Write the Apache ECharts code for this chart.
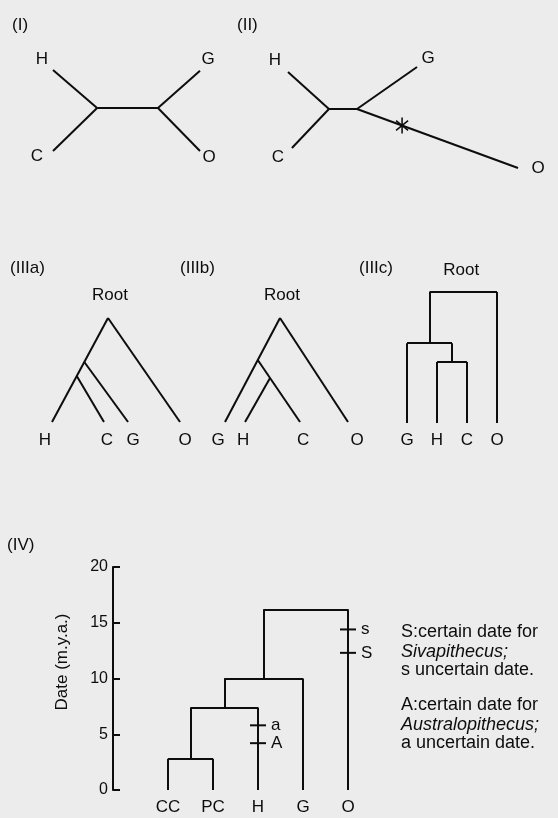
<!DOCTYPE html>
<html><head><meta charset="utf-8">
<script src="https://cdn.jsdelivr.net/npm/echarts@6/dist/echarts.min.js"></script>
<style>html,body{margin:0;padding:0;background:#ececec}#c{width:558px;height:818px}</style>
</head><body><div id="c"></div>
<script>
const FONT = '"Liberation Sans", Arial, sans-serif';
const INK = '#0d0d0d';

// ---------- Panel (I): unrooted tree (tree units) ----------
const p1Nodes = {H:[0,1], C:[0,0], u:[0.30,0.53], v:[0.714,0.53], G:[1,0.99], O:[1,0]};
const p1Edges = [['H','u'],['C','u'],['u','v'],['v','G'],['v','O']];
const p1LeafLabels = [['H',-11,-11],['C',-16,5],['G',8,-11],['O',9,6]];

// ---------- Panel (II): unrooted tree with long O branch ----------
const p2Nodes = {H:[0,0.95], C:[0.017,0.198], u:[0.178,0.584], v:[0.30,0.584], G:[0.561,1], O:[1,0]};
const p2Edges = [['H','u'],['C','u'],['u','v'],['v','G'],['v','O']];
const p2LeafLabels = [['H',-13,-12],['C',-14,9],['G',11,-9],['O',20,0]];
const p2Mark = ['v','O',0.28];   // asterisk on branch v-O

// ---------- Panel (IIIa): slanted cladogram ----------
const p3aLeaves = {H:0, C:0.406, G:0.594, O:1};
const p3aRoot = [0.4375, 1];
const p3aInner = [['n1',0.577,'Root','H'],['n2',0.442,'Root','H']];
const p3aEdges = [['Root','H'],['Root','O'],['n1','G'],['n2','C']];
const p3aLabelDx = {H:-7, C:3, G:5, O:5};

// ---------- Panel (IIIb) ----------
const p3bLeaves = {G:0, H:0.163, C:0.61, O:1};
const p3bRoot = [0.447, 1];
const p3bInner = [['n1',0.596,'Root','G'],['n2',0.423,'n1','C']];
const p3bEdges = [['Root','G'],['Root','O'],['n1','C'],['n2','H']];
const p3bLabelDx = {G:-7, H:-2, C:3, O:9};

// ---------- Panel (IIIc): rectangular cladogram ----------
const p3cLeaves = ['G','H','C','O'];
const p3cMerges = [['H','C',1.0],['G','HC',1.31],['GHC','O',2.15]];

// ---------- Panel (IV): dated tree ----------
const ivLeaves = ['CC','PC','H','G','O'];
const ivMerges = [['CC','PC',2.8],['CCPC','H',7.4],['CCPCH','G',10.0],['CCPCHG','O',16.2]];
const ivDateMarks = [['H',5.8,'a'],['H',4.2,'A'],['O',14.4,'s'],['O',12.3,'S']];
const ivYMin = 0, ivYMax = 20, ivYStep = 5;
const ivAxisName = 'Date (m.y.a.)';

const panelTitles = [['(I)',12,25],['(II)',237,25],['(IIIa)',10,268],['(IIIb)',180,268],['(IIIc)',359,268],['(IV)',7,545]];
const noteLines = [
  ['S:certain date for','normal'],['Sivapithecus;','italic'],['s uncertain date.','normal'],
  ['A:certain date for','normal'],['Australopithecus;','italic'],['a uncertain date.','normal']
];

// ---------- helpers ----------
function pointAtHeight(A, B, h){ const t=(h-A[1])/(B[1]-A[1]); return [A[0]+t*(B[0]-A[0]), h]; }
function slanted(leaves, root, inner){
  const P = {Root: root};
  Object.keys(leaves).forEach(k => P[k] = [leaves[k], 0]);
  inner.forEach(([n,h,a,b]) => P[n] = pointAtHeight(P[a], P[b], h));
  return P;
}
function dendro(leaves, merges){
  const P = {}; const segs = [];
  leaves.forEach((k,i) => P[k] = [i,0]);
  let last = null;
  merges.forEach(([a,b,h]) => {
    const pa=P[a], pb=P[b];
    segs.push([pa,[pa[0],h]],[pb,[pb[0],h]],[[pa[0],h],[pb[0],h]]);
    last = P[a+b] = [(pa[0]+pb[0])/2, h];
  });
  return {P, segs, root:last};
}
function edgeLines(P, edges){ return edges.map(([a,b]) => ({coords:[P[a],P[b]]})); }
function asteriskPath(){
  const L=16, t=1.6; let d='';
  [90,38,142].forEach(deg => {
    const a=deg*Math.PI/180, dx=Math.cos(a)*L/2, dy=-Math.sin(a)*L/2, nx=Math.sin(a)*t/2, ny=Math.cos(a)*t/2;
    const pts=[[dx+nx,dy+ny],[dx-nx,dy-ny],[-dx-nx,-dy-ny],[-dx+nx,-dy+ny]];
    d += 'M'+pts.map(p=>p[0].toFixed(3)+','+p[1].toFixed(3)).join('L')+'Z';
  });
  return 'path://'+d;
}

const lineStyle = {color: INK, width: 2, opacity: 1};
const labelFont = {fontFamily: FONT, fontSize: 17, color: INK, opacity: 1};
function linesSeries(xi, yi, data){
  return {type:'lines', coordinateSystem:'cartesian2d', xAxisIndex: xi, yAxisIndex: yi, lineStyle, data, silent:true, animation:false, z:2};
}
function labelSeries(xi, yi, data){
  return {type:'scatter', xAxisIndex: xi, yAxisIndex: yi, symbolSize: 1, itemStyle:{color:'rgba(0,0,0,0)', opacity:1},
    label:{show:true, position:'inside', formatter: p => p.name, ...labelFont}, data, silent:true, animation:false, z:3};
}

const grids = [
  {left:53, top:70, width:147, height:81},
  {left:288, top:67, width:230, height:101},
  {left:52, top:318, width:128, height:104},
  {left:225, top:318, width:123, height:104},
  {left:407, top:292, width:90, height:131},
  {left:145.5, top:567, width:225, height:223}
];
const hid = (g, min, max) => ({type:'value', gridIndex:g, min, max, show:false});

const xAxis = [hid(0,0,1), hid(1,0,1), hid(2,0,1), hid(3,0,1), hid(4,0,3),
  {type:'category', gridIndex:5, data: ivLeaves, boundaryGap:true, axisLine:{show:false}, axisTick:{show:false},
   axisLabel:{margin:9, ...labelFont}},
  hid(5,-0.5,ivLeaves.length-0.5)];
const yAxis = [hid(0,0,1), hid(1,0,1), hid(2,0,1), hid(3,0,1), hid(4,0,p3cMerges[p3cMerges.length-1][2]),
  {type:'value', gridIndex:5, position:'left', min:ivYMin, max:ivYMax, interval:ivYStep, offset:32.5,
   axisLine:{show:true, onZero:false, lineStyle:{color:INK, width:2}},
   axisTick:{show:true, inside:true, length:7, lineStyle:{color:INK, width:2}},
   axisLabel:{margin:5, fontFamily:FONT, fontSize:16, color:INK}, splitLine:{show:false}}];

const series = [];
// Panel I
series.push(linesSeries(0, 0, edgeLines(p1Nodes, p1Edges)));
series.push(labelSeries(0,0, p1LeafLabels.map(([k,dx,dy]) => ({name:k, value:p1Nodes[k], label:{offset:[dx,dy]}}))));
// Panel II
series.push(linesSeries(1, 1, edgeLines(p2Nodes, p2Edges)));
series.push(labelSeries(1,1, p2LeafLabels.map(([k,dx,dy]) => ({name:k, value:p2Nodes[k], label:{offset:[dx,dy]}}))));
{
  const [a,b,t] = p2Mark, A=p2Nodes[a], B=p2Nodes[b];
  series.push({type:'scatter', xAxisIndex:1, yAxisIndex:1, symbol: asteriskPath(), symbolSize:[13,16],
    itemStyle:{color:INK, opacity:1}, data:[[A[0]+t*(B[0]-A[0]), A[1]+t*(B[1]-A[1])]], silent:true, animation:false, z:4});
}
// Panel IIIa / IIIb
[[2,p3aLeaves,p3aRoot,p3aInner,p3aEdges,p3aLabelDx],[3,p3bLeaves,p3bRoot,p3bInner,p3bEdges,p3bLabelDx]].forEach(([g,lv,rt,inn,ed,ldx]) => {
  const P = slanted(lv, rt, inn);
  series.push(linesSeries(g, g, edgeLines(P, ed)));
  const d = Object.keys(lv).map(k => ({name:k, value:P[k], label:{offset:[ldx[k],18]}}));
  d.push({name:'Root', value:P.Root, label:{offset:[2,-23]}});
  series.push(labelSeries(g,g,d));
});
// Panel IIIc
{
  const D = dendro(p3cLeaves, p3cMerges);
  series.push(linesSeries(4, 4, D.segs.map(s => ({coords:s}))));
  const d = p3cLeaves.map(k => ({name:k, value:D.P[k], label:{offset:[0,17]}}));
  d.push({name:'Root', value:D.root, label:{offset:[-2,-22]}});
  series.push(labelSeries(4,4,d));
}
// Panel IV
{
  const D = dendro(ivLeaves, ivMerges);
  series.push(linesSeries(6, 5, D.segs.map(s => ({coords:s}))));
  series.push({type:'scatter', xAxisIndex:6, yAxisIndex:5, symbol:'rect', symbolSize:[16,2], itemStyle:{color:INK, opacity:1},
    label:{show:true, position:'right', distance:5, formatter:p=>p.name, ...labelFont},
    data: ivDateMarks.map(([k,v,n]) => ({name:n, value:[ivLeaves.indexOf(k), v]})), silent:true, animation:false, z:4});
}

const graphic = [];
panelTitles.forEach(([t,x,y]) => graphic.push({type:'text', x, y, style:{text:t, fontFamily:FONT, fontSize:17, fill:INK, verticalAlign:'middle'}}));
graphic.push({type:'text', x:62, y:662, rotation:Math.PI/2, style:{text:ivAxisName, fontFamily:FONT, fontSize:17, fill:INK, align:'center', verticalAlign:'middle'}});
const noteY = [632,652,670,705,725,743];
noteLines.forEach(([t,st],i) => graphic.push({type:'text', x:401, y:noteY[i], style:{text:t, fontFamily:FONT, fontSize:18, fontStyle:st, fill:INK, verticalAlign:'middle'}}));

const chart = echarts.init(document.getElementById('c'), null, {renderer:'canvas'});
chart.setOption({backgroundColor:'#ececec', animation:false, grid:grids, xAxis, yAxis, series, graphic});
</script></body></html>
